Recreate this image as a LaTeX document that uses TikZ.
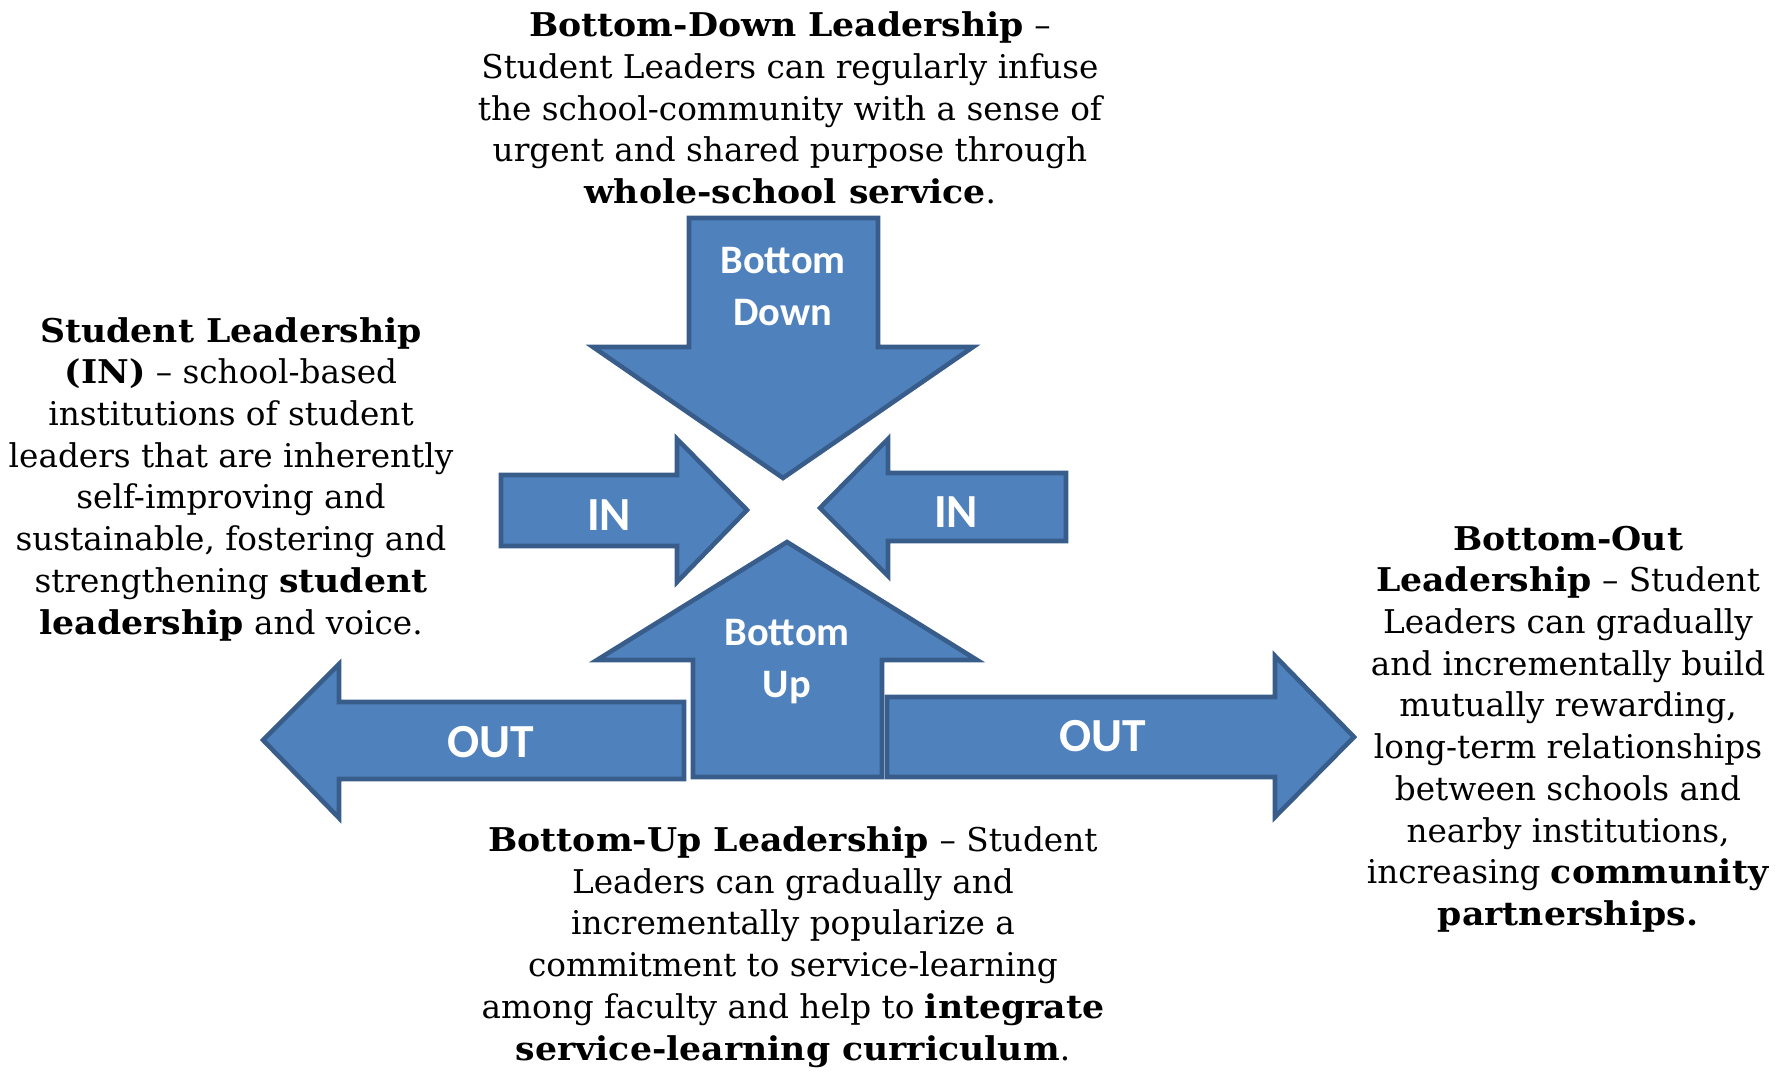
\documentclass[tikz,border=0pt]{standalone}
\usepackage{fontspec}
\setmainfont{DejaVu Serif}[BoldFeatures={FakeStretch=1.06}]
\newfontfamily\arrowfont{Carlito}
\usetikzlibrary{positioning}
\definecolor{arrowfill}{HTML}{4F81BD}
\definecolor{arrowline}{HTML}{385D8A}

\begin{document}
\begin{tikzpicture}[
    x=0.01cm, y=-0.01cm,
    blockarrow/.style={draw=arrowline, fill=arrowfill, line width=1.3pt, line join=miter},
    arrowlabel/.style={font=\arrowfont\bfseries\fontsize{13.5}{16}\selectfont, text=white, inner sep=0pt},
    bottomlabel/.style={font=\arrowfont\bfseries\fontsize{11.5}{14.8}\selectfont, text=white, align=center, inner sep=0pt},
    desc/.style={font=\fontsize{9.3}{11.86}\selectfont, align=center, inner sep=0pt},
]
    \useasboundingbox (0,0) rectangle (1789,1073);

    % === BOTTOM DOWN ===
    \draw[blockarrow] (689,218) -- (878,218) -- (878,347) -- (973,347) -- (783,478) -- (593,347) -- (689,347) -- cycle;
    \node[bottomlabel] (downlbl) at (783,287) {Bottom\\Down};

    % === IN (left and right) ===
    \draw[blockarrow] (501,475) -- (677,475) -- (677,439) -- (747,510) -- (677,582) -- (677,546) -- (501,546) -- cycle;
    \node[arrowlabel] (inleft) at (609,515) {IN};
    \draw[blockarrow] (1066,473) -- (888,473) -- (888,439) -- (820,508) -- (888,576) -- (888,541) -- (1066,541) -- cycle;
    \node[arrowlabel] (inright) at (956,512) {IN};

    % === BOTTOM UP ===
    \draw[blockarrow] (693,777) -- (693,660) -- (597,660) -- (787,542) -- (977,660) -- (882,660) -- (882,777) -- cycle;
    \node[bottomlabel] (uplbl) at (787,662) {Bottom\\Up};

    % === OUT (left and right) ===
    \draw[blockarrow] (684,702) -- (339,702) -- (339,664) -- (263,740) -- (339,818) -- (339,779) -- (684,779) -- cycle;
    \node[arrowlabel] (outleft) at (491,742) {OUT};
    \draw[blockarrow] (887,697) -- (1275,697) -- (1275,656) -- (1354,737) -- (1275,817) -- (1275,777) -- (887,777) -- cycle;
    \node[arrowlabel] (outright) at (1103,736) {OUT};

    % === DESCRIPTIONS ===
    \node[desc] (topdesc) at (790,108) {\textbf{Bottom-Down Leadership} --\\
        Student Leaders can regularly infuse\\
        the school-community with a sense of\\
        urgent and shared purpose through\\
        \textbf{whole-school service}.};
    \node[desc] (leftdesc) at (231,479) {\textbf{Student Leadership}\\
        \textbf{(IN)} -- school-based\\
        institutions of student\\
        leaders that are inherently\\
        self-improving and\\
        sustainable, fostering and\\
        strengthening \textbf{student}\\
        \textbf{leadership} and voice.};
    \node[desc] (rightdesc) at (1568,729) {\textbf{Bottom-Out}\\
        \textbf{Leadership} -- Student\\
        Leaders can gradually\\
        and incrementally build\\
        mutually rewarding,\\
        long-term relationships\\
        between schools and\\
        nearby institutions,\\
        increasing \textbf{community}\\
        \textbf{partnerships.}};
    \node[desc] (bottomdesc) at (793,947) {\textbf{Bottom-Up Leadership} -- Student\\
        Leaders can gradually and\\
        incrementally popularize a\\
        commitment to service-learning\\
        among faculty and help to \textbf{integrate}\\
        \textbf{service-learning curriculum}.};
\end{tikzpicture}
\end{document}
